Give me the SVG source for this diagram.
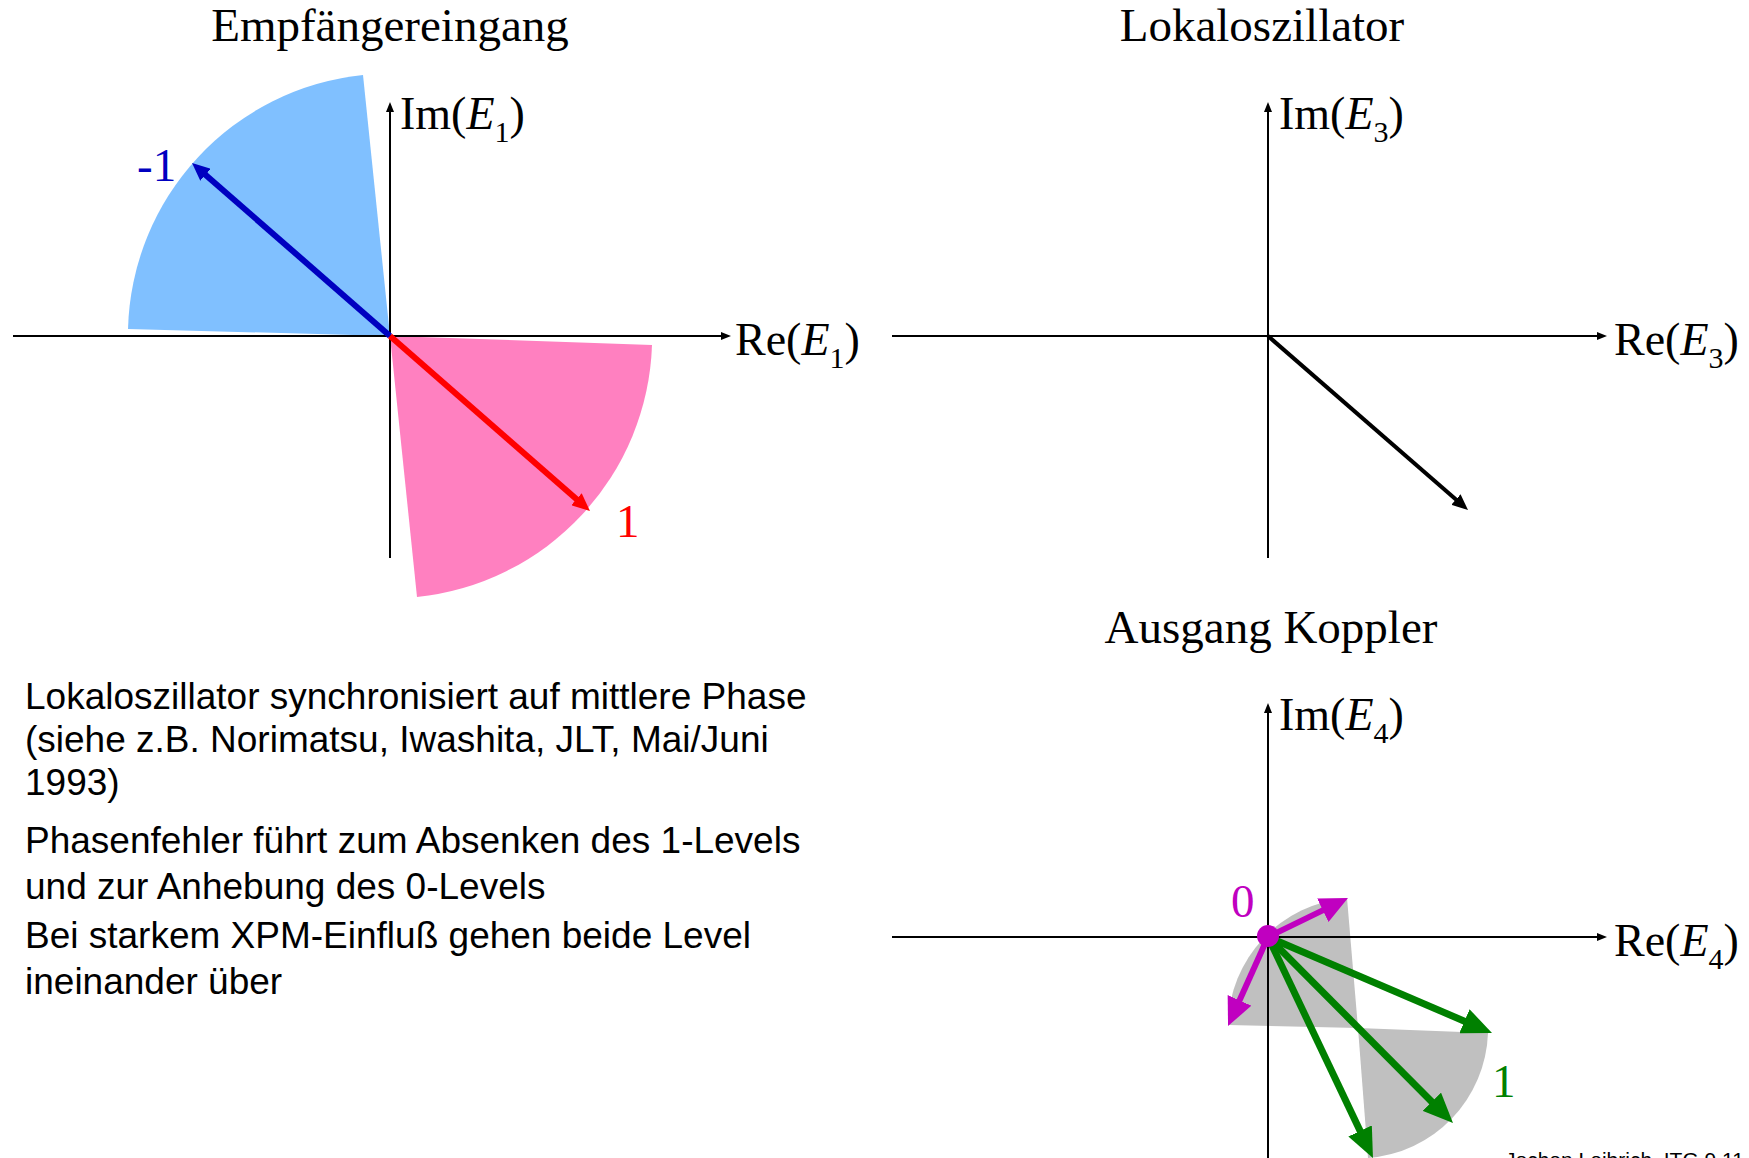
<svg xmlns="http://www.w3.org/2000/svg" width="1749" height="1158" viewBox="0 0 1749 1158">
<style>
.title{font-family:"Liberation Serif","Times New Roman",serif;font-size:47px;fill:#000}
.lab{font-family:"Liberation Serif","Times New Roman",serif;font-size:46px;fill:#000}
.sub{font-size:30px}
.it{font-style:italic}
.num{font-family:"Liberation Serif","Times New Roman",serif;font-size:47px}
.body{font-family:"Liberation Sans",Arial,sans-serif;font-size:37px;fill:#000}
.foot{font-family:"Liberation Sans",Arial,sans-serif;font-size:21px;fill:#000}
.axis{stroke:#000;stroke-width:2;fill:none;marker-end:url(#axh)}
</style>
<defs>
<marker id="axh" markerUnits="userSpaceOnUse" markerWidth="10" markerHeight="8" refX="2" refY="4" orient="auto" viewBox="0 0 10 8"><path d="M0,0 L10,4 L0,8 z" fill="#000"/></marker>
<marker id="hblue" markerUnits="userSpaceOnUse" markerWidth="18" markerHeight="16" refX="9" refY="8" orient="auto" viewBox="0 0 18 16"><path d="M0,0 L18,8 L0,16 z" fill="#0000C0"/></marker>
<marker id="hred" markerUnits="userSpaceOnUse" markerWidth="18" markerHeight="16" refX="9" refY="8" orient="auto" viewBox="0 0 18 16"><path d="M0,0 L18,8 L0,16 z" fill="#FF0000"/></marker>
<marker id="hblack" markerUnits="userSpaceOnUse" markerWidth="16" markerHeight="14" refX="8" refY="7" orient="auto" viewBox="0 0 16 14"><path d="M0,0 L16,7 L0,14 z" fill="#000"/></marker>
<marker id="hgreen" markerUnits="userSpaceOnUse" markerWidth="30" markerHeight="26" refX="14" refY="13" orient="auto" viewBox="0 0 30 26"><path d="M0,0 L30,13 L0,26 z" fill="#008000"/></marker>
<marker id="hmag" markerUnits="userSpaceOnUse" markerWidth="28" markerHeight="26" refX="13" refY="13" orient="auto" viewBox="0 0 28 26"><path d="M0,0 L28,13 L0,26 z" fill="#C000C0"/></marker>
</defs>
<rect width="1749" height="1158" fill="#fff"/>

<g id="sectors">
<path d="M390,336 L128,329 A262,262 0 0 1 363,75 Z" fill="#80C0FF"/>
<path d="M390,336 L652,345 A262,262 0 0 1 417,597 Z" fill="#FF80C0"/>
<path d="M1358,1028 L1228,1025 A130,130 0 0 1 1347,898 Z" fill="#C0C0C0"/>
<path d="M1358,1028 L1488,1033 A130,130 0 0 1 1368,1158 Z" fill="#C0C0C0"/>
</g>

<g id="axes">
<path class="axis" d="M13,336 H723"/>
<path class="axis" d="M390,558 V110"/>
<path class="axis" d="M892,336 H1599"/>
<path class="axis" d="M1268,558 V110"/>
<path class="axis" d="M892,937 H1599"/>
<path class="axis" d="M1268,1158 V711"/>
</g>

<g id="connectors">
<line x1="390" y1="336" x2="198.8" y2="168.9" stroke="#0000C0" stroke-width="6" marker-end="url(#hblue)"/>
<line x1="390" y1="336" x2="583.2" y2="505.1" stroke="#FF0000" stroke-width="6" marker-end="url(#hred)"/>
<line x1="1268" y1="336" x2="1462" y2="504.8" stroke="#000" stroke-width="4" marker-end="url(#hblack)"/>
<line x1="1268" y1="937" x2="1477.3" y2="1026.7" stroke="#008000" stroke-width="7" marker-end="url(#hgreen)"/>
<line x1="1268" y1="937" x2="1441.7" y2="1111.7" stroke="#008000" stroke-width="7" marker-end="url(#hgreen)"/>
<line x1="1268" y1="937" x2="1366.1" y2="1143.6" stroke="#008000" stroke-width="7" marker-end="url(#hgreen)"/>
<line x1="1268" y1="937" x2="1334.5" y2="904.6" stroke="#C000C0" stroke-width="6" marker-end="url(#hmag)"/>
<line x1="1268" y1="937" x2="1234.2" y2="1012.3" stroke="#C000C0" stroke-width="6" marker-end="url(#hmag)"/>
</g>
<g id="origin-dot"><circle cx="1268" cy="936" r="11" fill="#C000C0"/></g>

<g id="titles">
<text class="title" x="390" y="41" text-anchor="middle">Empfängereingang</text>
<text class="title" x="1262" y="41" text-anchor="middle">Lokaloszillator</text>
<text class="title" x="1271" y="643" text-anchor="middle">Ausgang Koppler</text>
</g>

<g id="axis-labels">
<text class="lab" x="400" y="129">Im(<tspan class="it">E</tspan><tspan class="sub" dy="13">1</tspan><tspan dy="-13">)</tspan></text>
<text class="lab" x="735" y="355">Re(<tspan class="it">E</tspan><tspan class="sub" dy="13">1</tspan><tspan dy="-13">)</tspan></text>
<text class="lab" x="1279" y="129">Im(<tspan class="it">E</tspan><tspan class="sub" dy="13">3</tspan><tspan dy="-13">)</tspan></text>
<text class="lab" x="1614" y="355">Re(<tspan class="it">E</tspan><tspan class="sub" dy="13">3</tspan><tspan dy="-13">)</tspan></text>
<text class="lab" x="1279" y="730">Im(<tspan class="it">E</tspan><tspan class="sub" dy="13">4</tspan><tspan dy="-13">)</tspan></text>
<text class="lab" x="1614" y="956">Re(<tspan class="it">E</tspan><tspan class="sub" dy="13">4</tspan><tspan dy="-13">)</tspan></text>
</g>

<g id="value-labels">
<text class="num" x="137" y="181" fill="#0000C0">-1</text>
<text class="num" x="616" y="537" fill="#FF0000">1</text>
<text class="num" x="1231" y="917" fill="#C000C0">0</text>
<text class="num" x="1492" y="1097" fill="#008000">1</text>
</g>

<g id="notes">
<text class="body" x="25" y="709">Lokaloszillator synchronisiert auf mittlere Phase</text>
<text class="body" x="25" y="752">(siehe z.B. Norimatsu, Iwashita, JLT, Mai/Juni</text>
<text class="body" x="25" y="795">1993)</text>
<text class="body" x="25" y="853">Phasenfehler führt zum Absenken des 1-Levels</text>
<text class="body" x="25" y="899">und zur Anhebung des 0-Levels</text>
<text class="body" x="25" y="948">Bei starkem XPM-Einfluß gehen beide Level</text>
<text class="body" x="25" y="994">ineinander über</text>
</g>

<g id="footer"><text class="foot" x="1505" y="1167">Jochen Leibrich, ITG 9.11</text></g>
</svg>
